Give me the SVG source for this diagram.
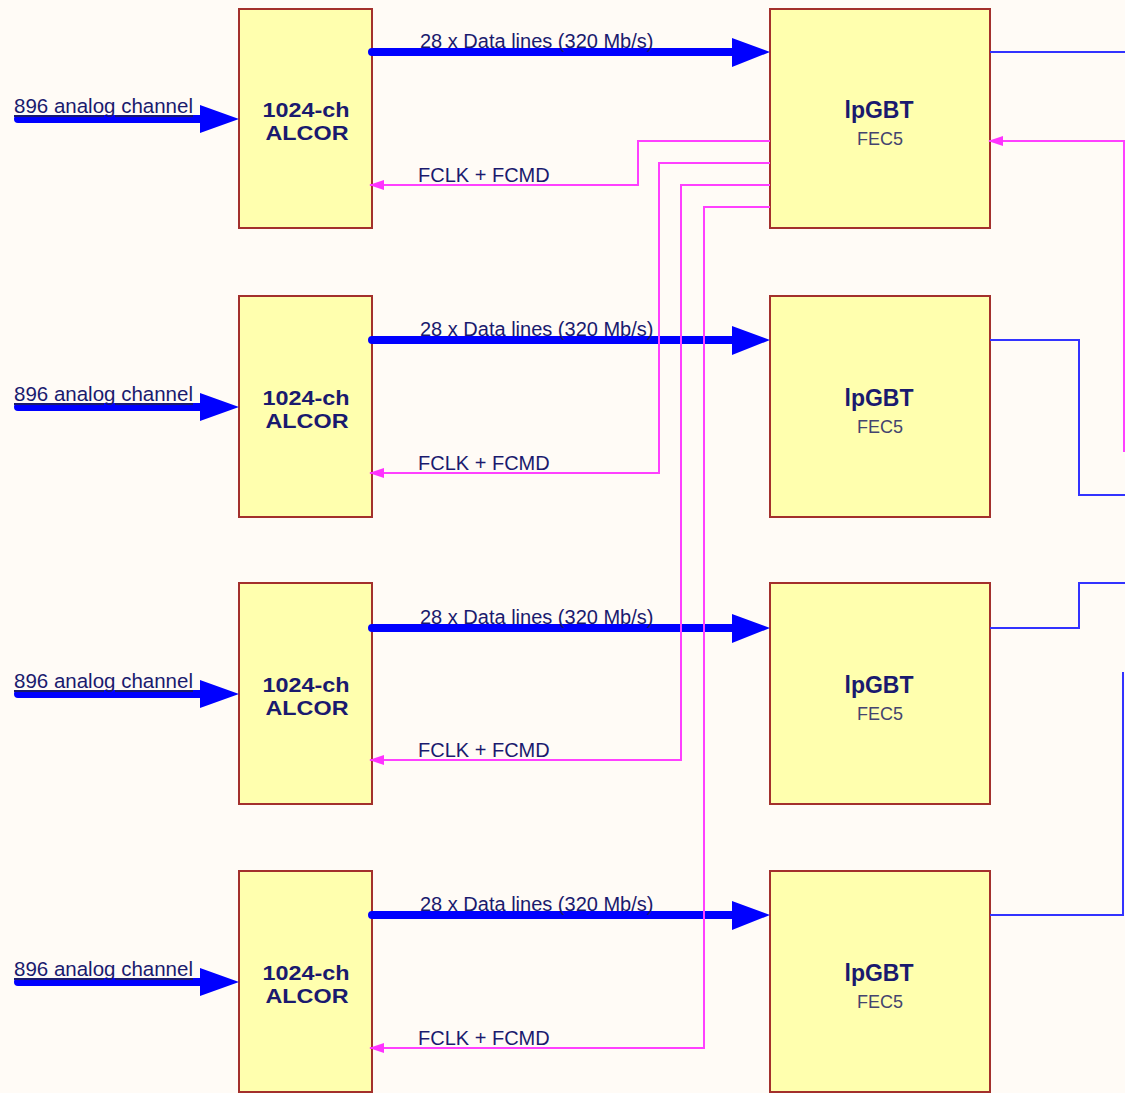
<svg xmlns="http://www.w3.org/2000/svg" width="1125" height="1093" viewBox="0 0 1125 1093">
<defs>
<style>
.bg{fill:#fffbf6}
.box{fill:#ffffae;stroke:#a3302c;stroke-width:2}
.t{font-family:"Liberation Sans",Arial,sans-serif;fill:#1a1a6e}
.lbl{font-size:20px}
.in{font-size:20.5px;text-decoration:underline}
.big{font-size:21px;font-weight:bold;text-anchor:middle}
.gbt{font-size:23px;font-weight:bold;text-anchor:middle}
.sub{font-size:18px;text-anchor:middle;fill:#44446e}
.data{stroke:#0000ff;stroke-width:8;fill:none;stroke-linecap:round}
.head{fill:#0000ff}
.mag{stroke:#ff40ff;stroke-width:2;fill:none}
.thin{stroke:#3333ff;stroke-width:2;fill:none}
</style>
<marker id="ma" markerUnits="userSpaceOnUse" markerWidth="16" markerHeight="10" refX="14" refY="5" orient="auto" viewBox="0 0 16 10">
<path d="M15,5 L0,0 L0,10 Z" fill="#ff33ff"/>
</marker>
</defs>
<rect class="bg" x="0" y="0" width="1125" height="1093"/>

<g id="alcor1"><rect class="box" x="239" y="9" width="133" height="219"/><text class="t big" x="306" y="117" textLength="87" lengthAdjust="spacingAndGlyphs">1024-ch</text><text class="t big" x="307" y="140" textLength="83" lengthAdjust="spacingAndGlyphs">ALCOR</text></g>
<g id="alcor2"><rect class="box" x="239" y="296" width="133" height="221"/><text class="t big" x="306" y="405" textLength="87" lengthAdjust="spacingAndGlyphs">1024-ch</text><text class="t big" x="307" y="428" textLength="83" lengthAdjust="spacingAndGlyphs">ALCOR</text></g>
<g id="alcor3"><rect class="box" x="239" y="583" width="133" height="221"/><text class="t big" x="306" y="692" textLength="87" lengthAdjust="spacingAndGlyphs">1024-ch</text><text class="t big" x="307" y="715" textLength="83" lengthAdjust="spacingAndGlyphs">ALCOR</text></g>
<g id="alcor4"><rect class="box" x="239" y="871" width="133" height="221"/><text class="t big" x="306" y="980" textLength="87" lengthAdjust="spacingAndGlyphs">1024-ch</text><text class="t big" x="307" y="1003" textLength="83" lengthAdjust="spacingAndGlyphs">ALCOR</text></g>

<g id="lpgbt1"><rect class="box" x="770" y="9" width="220" height="219"/><text class="t gbt" x="879" y="118">lpGBT</text><text class="t sub" x="880" y="145">FEC5</text></g>
<g id="lpgbt2"><rect class="box" x="770" y="296" width="220" height="221"/><text class="t gbt" x="879" y="406">lpGBT</text><text class="t sub" x="880" y="433">FEC5</text></g>
<g id="lpgbt3"><rect class="box" x="770" y="583" width="220" height="221"/><text class="t gbt" x="879" y="693">lpGBT</text><text class="t sub" x="880" y="720">FEC5</text></g>
<g id="lpgbt4"><rect class="box" x="770" y="871" width="220" height="221"/><text class="t gbt" x="879" y="981">lpGBT</text><text class="t sub" x="880" y="1008">FEC5</text></g>

<g id="connectors">
<path class="data" d="M18,119 H204 M18,407 H204 M18,694 H204 M18,982 H204"/>
<path class="head" d="M200,105 L239,119 L200,133 Z M200,393 L239,407 L200,421 Z M200,680 L239,694 L200,708 Z M200,968 L239,982 L200,996 Z"/>
<path class="data" d="M372,52 H736 M372,340 H736 M372,628 H736 M372,915 H736"/>
<path class="head" d="M732,38 L770,52 L732,67 Z M732,326 L770,340 L732,355 Z M732,614 L770,628 L732,643 Z M732,901 L770,915 L732,930 Z"/>
<path class="mag" d="M770,141 H638 V185 H370" marker-end="url(#ma)"/>
<path class="mag" d="M770,163 H659 V473 H370" marker-end="url(#ma)"/>
<path class="mag" d="M770,185 H681 V760 H370" marker-end="url(#ma)"/>
<path class="mag" d="M770,207 H704 V1048 H370" marker-end="url(#ma)"/>
<path class="mag" d="M1124,452 V141 H989" marker-end="url(#ma)"/>
<path class="thin" d="M990,52 H1125"/>
<path class="thin" d="M990,340 H1079 V495 H1125"/>
<path class="thin" d="M990,628 H1079 V583 H1125"/>
<path class="thin" d="M990,915 H1123 V672"/>
</g>

<g id="labels">
<text class="t in" x="14" y="113">896 analog channel</text>
<text class="t in" x="14" y="401">896 analog channel</text>
<text class="t in" x="14" y="688">896 analog channel</text>
<text class="t in" x="14" y="976">896 analog channel</text>
<text class="t lbl" x="420" y="48">28 x Data lines (320 Mb/s)</text>
<text class="t lbl" x="420" y="336">28 x Data lines (320 Mb/s)</text>
<text class="t lbl" x="420" y="624">28 x Data lines (320 Mb/s)</text>
<text class="t lbl" x="420" y="911">28 x Data lines (320 Mb/s)</text>
<text class="t lbl" x="418" y="182">FCLK + FCMD</text>
<text class="t lbl" x="418" y="470">FCLK + FCMD</text>
<text class="t lbl" x="418" y="757">FCLK + FCMD</text>
<text class="t lbl" x="418" y="1045">FCLK + FCMD</text>
</g>
</svg>
